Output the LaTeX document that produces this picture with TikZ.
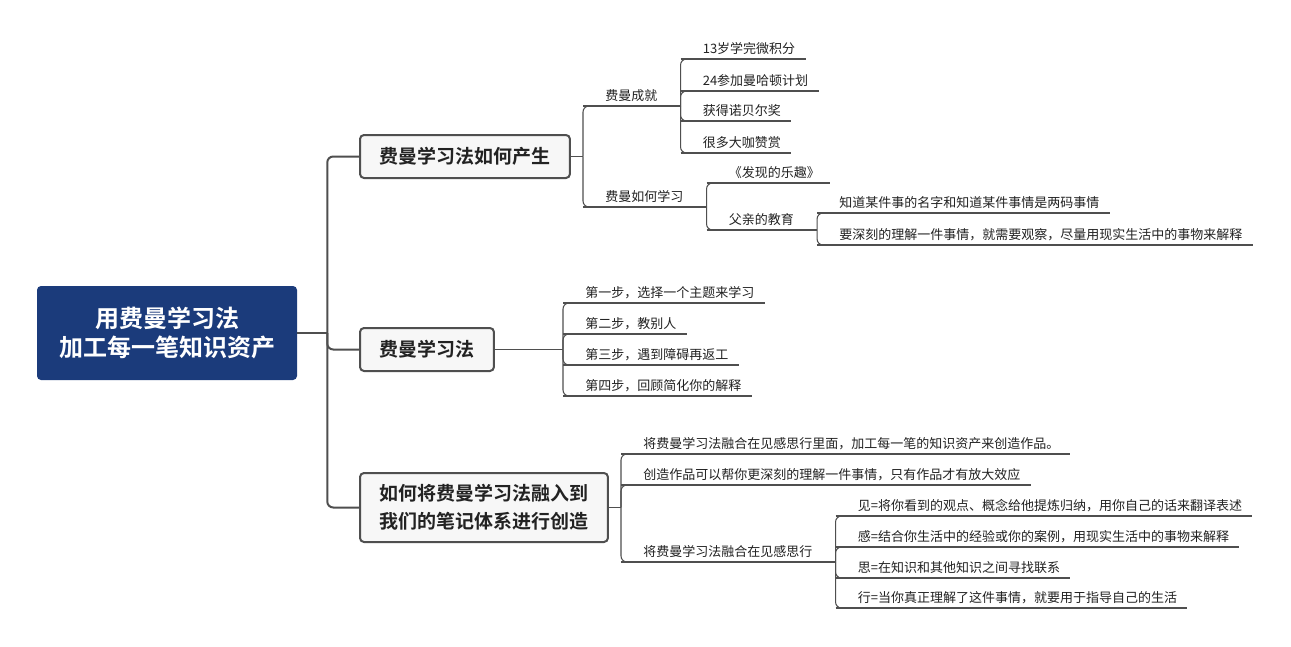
\documentclass[tikz,border=0pt]{standalone}
\usepackage{fontspec}
\setmainfont{Noto Sans CJK SC}[BoldFont={Noto Sans CJK SC Bold}]
\definecolor{navy}{HTML}{1B3B7B}
\definecolor{linec}{HTML}{4F4F4F}
\definecolor{boxfill}{HTML}{F7F7F7}
\definecolor{txt}{HTML}{222222}
\begin{document}
\begin{tikzpicture}[x=0.75pt,y=-0.75pt,
  trunk/.style={draw=linec, line width=1.5pt},
  sub/.style={draw=linec, line width=0.8pt},
  rc/.style={rounded corners=4.5pt},
  topicbase/.style={anchor=south west, inner xsep=0pt, inner ysep=3pt,
    text height=0.88em, text depth=0.12em,
    font=\fontsize{9.75}{12}\selectfont, text=txt,
    execute at begin node=\hspace*{16.5pt},
    append after command={(\tikzlastnode.south west) edge[sub] (\tikzlastnode.south east)}},
  leaf/.style={topicbase, execute at end node=\hspace*{7.5pt}},
  parent/.style={topicbase, execute at end node=\hspace*{17.25pt}},
  rootbox/.style={fill=navy, rounded corners=3pt, minimum width=195pt,
    minimum height=70.5pt, text=white, inner sep=0pt, align=center,
    font=\fontsize{18}{21.75}\selectfont\bfseries},
  mainbox/.style={anchor=west, draw=linec, line width=1.5pt, fill=boxfill,
    rounded corners=3pt, inner xsep=14.6pt, inner ysep=2pt, text=txt,
    align=center, font=\fontsize{14.25}{21}\selectfont\bfseries}
]
\useasboundingbox[fill=white] (0,0) rectangle (1291,646);

% root
\node[rootbox] (root) at (167,333) {用费曼学习法\\加工每一笔知识资产};

% main topics
\node[mainbox, minimum height=32.25pt] (b1) at (359,156.5) {费曼学习法如何产生};
\node[mainbox, minimum height=32.25pt] (b2) at (359,349.5) {费曼学习法};
\node[mainbox, minimum height=51.75pt] (b3) at (359,507.5) {如何将费曼学习法融入到\\我们的笔记体系进行创造};

\draw[trunk] (root.east) -- ++(30,0) coordinate (j);
\foreach \b in {b1,b2,b3} \draw[trunk,rc] (j) |- (\b.west);

% branch 1
\node[parent] (a1) at (583,106) {费曼成就};
\node[parent] (a2) at (583,207) {费曼如何学习};
\draw[sub] (b1.east) -- (b1.east -| a1.south west) coordinate (k1);
\foreach \c in {a1,a2} \draw[sub,rc] (k1) |- ([xshift=4.5pt]\c.south west);

\node[leaf] (a11) at (a1.south east |- 0,59) {13岁学完微积分};
\node[leaf] (a12) at (a1.south east |- 0,91) {24参加曼哈顿计划};
\node[leaf] (a13) at (a1.south east |- 0,121) {获得诺贝尔奖};
\node[leaf] (a14) at (a1.south east |- 0,153) {很多大咖赞赏};
\foreach \c in {a11,a12,a13,a14} \draw[sub,rc] (a1.south east) |- ([xshift=4.5pt]\c.south west);

\node[leaf] (a21) at (a2.south east |- 0,183) {《发现的乐趣》};
\node[parent] (a22) at (a2.south east |- 0,230) {父亲的教育};
\foreach \c in {a21,a22} \draw[sub,rc] (a2.south east) |- ([xshift=4.5pt]\c.south west);

\node[leaf] (a221) at (a22.south east |- 0,213) {知道某件事的名字和知道某件事情是两码事情};
\node[leaf] (a222) at (a22.south east |- 0,245) {要深刻的理解一件事情，就需要观察，尽量用现实生活中的事物来解释};
\foreach \c in {a221,a222} \draw[sub,rc] (a22.south east) |- ([xshift=4.5pt]\c.south west);

% branch 2
\node[leaf] (c1) at (563,303) {第一步，选择一个主题来学习};
\node[leaf] (c2) at (563,334) {第二步，教别人};
\node[leaf] (c3) at (563,365) {第三步，遇到障碍再返工};
\node[leaf] (c4) at (563,396) {第四步，回顾简化你的解释};
\draw[sub] (b2.east) -- (b2.east -| c1.south west) coordinate (k2);
\foreach \c in {c1,c2,c3,c4} \draw[sub,rc] (k2) |- ([xshift=4.5pt]\c.south west);

% branch 3
\node[leaf] (d1) at (621,454) {将费曼学习法融合在见感思行里面，加工每一笔的知识资产来创造作品。};
\node[leaf] (d2) at (621,485) {创造作品可以帮你更深刻的理解一件事情，只有作品才有放大效应};
\node[parent] (d3) at (621,562) {将费曼学习法融合在见感思行};
\draw[sub] (b3.east) -- (b3.east -| d1.south west) coordinate (k3);
\foreach \c in {d1,d2,d3} \draw[sub,rc] (k3) |- ([xshift=4.5pt]\c.south west);

\node[leaf] (d31) at (d3.south east |- 0,516) {见=将你看到的观点、概念给他提炼归纳，用你自己的话来翻译表述};
\node[leaf] (d32) at (d3.south east |- 0,547) {感=结合你生活中的经验或你的案例，用现实生活中的事物来解释};
\node[leaf] (d33) at (d3.south east |- 0,578) {思=在知识和其他知识之间寻找联系};
\node[leaf] (d34) at (d3.south east |- 0,608) {行=当你真正理解了这件事情，就要用于指导自己的生活};
\foreach \c in {d31,d32,d33,d34} \draw[sub,rc] (d3.south east) |- ([xshift=4.5pt]\c.south west);
\end{tikzpicture}
\end{document}
